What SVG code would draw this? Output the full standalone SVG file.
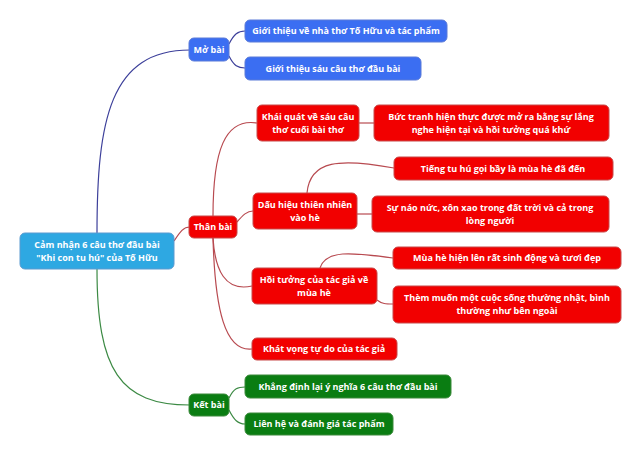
<svg xmlns="http://www.w3.org/2000/svg" width="640" height="456" viewBox="0 0 640 456">
<style>
text{font-family:"Open Sans","DejaVu Sans",sans-serif;font-weight:bold;font-size:9px;fill:#fff;text-anchor:middle}
.b rect{fill:#3b6ef2;stroke:#5a7ad8;stroke-width:1}
.r rect{fill:#f20000;stroke:#c84848;stroke-width:1}
.g rect{fill:#0a7d12;stroke:#3a8a3a;stroke-width:1}
.c rect{fill:#2ea8e2;stroke:#5a9ad0;stroke-width:1}
#connectors path{fill:none;stroke-width:1.2}
.lb{stroke:#3c3f9a}.lr{stroke:#b84a50}.lg{stroke:#3c8a44}
</style>
<rect width="640" height="456" fill="#fff"/>
<g id="connectors">
<path class="lb" d="M97,233 C97,120 110,50 190,50"/>
<path class="lr" d="M174,241 C180,232 183,227 190,227"/>
<path class="lg" d="M97,269 C97,370 120,405 190,405"/>
<path class="lb" d="M229,44 C234,34 238,31 245,31"/>
<path class="lb" d="M229,56 C234,66 238,68 245,68"/>
<path class="lg" d="M229,398 C234,388 238,387 245,387"/>
<path class="lg" d="M229,410 C234,420 238,424 245,424"/>
<path class="lr" d="M213,216 C213,150 225,118 257,123"/>
<path class="lr" d="M237,222 C243,215 247,211 253,211"/>
<path class="lr" d="M213,238 C215,270 225,292 252,286"/>
<path class="lr" d="M213,238 C215,310 225,352 252,349"/>
<path class="lr" d="M359,123 L374,123"/>
<path class="lr" d="M307,193 C310,160 340,158 394,168"/>
<path class="lr" d="M357,214 L372,214"/>
<path class="lr" d="M320,268 C326,250 350,252 393,258"/>
<path class="lr" d="M377,300 C382,304 386,304 393,304"/>
</g>
<g id="root" class="c"><rect x="20" y="233" width="154" height="36" rx="5"/><text x="97" y="248">Cảm nhận 6 câu thơ đầu bài</text><text x="97" y="261">"Khi con tu hú" của Tố Hữu</text></g>
<g id="mobai" class="b"><rect x="189" y="38" width="40" height="23" rx="5"/><text x="209" y="53">Mở bài</text></g>
<g id="mb1" class="b"><rect x="245" y="20" width="202" height="22" rx="5"/><text x="346" y="34">Giới thiệu về nhà thơ Tố Hữu và tác phẩm</text></g>
<g id="mb2" class="b"><rect x="245" y="57" width="176" height="23" rx="5"/><text x="333" y="71.5">Giới thiệu sáu câu thơ đầu bài</text></g>
<g id="thanbai" class="r"><rect x="189" y="216" width="48" height="22" rx="5"/><text x="213" y="230">Thân bài</text></g>
<g id="khaiquat" class="r"><rect x="257" y="105" width="102" height="36" rx="5"/><text x="308" y="120">Khái quát về sáu câu</text><text x="308" y="133">thơ cuối bài thơ</text></g>
<g id="buctranh" class="r"><rect x="374" y="105" width="235" height="36" rx="5"/><text x="491" y="120">Bức tranh hiện thực được mở ra bằng sự lắng</text><text x="491" y="133">nghe hiện tại và hồi tưởng quá khứ</text></g>
<g id="tieng" class="r"><rect x="394" y="157" width="219" height="23" rx="5"/><text x="503" y="171.5">Tiếng tu hú gọi bầy là mùa hè đã đến</text></g>
<g id="dauhieu" class="r"><rect x="253" y="193" width="104" height="36" rx="5"/><text x="305" y="208">Dấu hiệu thiên nhiên</text><text x="305" y="221">vào hè</text></g>
<g id="naonuc" class="r"><rect x="372" y="196" width="237" height="36" rx="5"/><text x="490" y="211">Sự náo nức, xôn xao trong đất trời và cả trong</text><text x="490" y="224">lòng người</text></g>
<g id="muahe" class="r"><rect x="393" y="247" width="228" height="22" rx="5"/><text x="507" y="261">Mùa hè hiện lên rất sinh động và tươi đẹp</text></g>
<g id="hoituong" class="r"><rect x="252" y="268" width="125" height="36" rx="5"/><text x="314" y="283">Hồi tưởng của tác giả về</text><text x="314" y="296">mùa hè</text></g>
<g id="themmuon" class="r"><rect x="393" y="286" width="228" height="37" rx="5"/><text x="507" y="301">Thèm muốn một cuộc sống thường nhật, bình</text><text x="507" y="314">thường như bên ngoài</text></g>
<g id="khatvong" class="r"><rect x="252" y="338" width="145" height="22" rx="5"/><text x="324" y="352">Khát vọng tự do của tác giả</text></g>
<g id="ketbai" class="g"><rect x="189" y="394" width="40" height="22" rx="5"/><text x="209" y="408">Kết bài</text></g>
<g id="kb1" class="g"><rect x="245" y="375" width="206" height="23" rx="5"/><text x="348" y="389.5">Khẳng định lại ý nghĩa 6 câu thơ đầu bài</text></g>
<g id="kb2" class="g"><rect x="245" y="413" width="148" height="22" rx="5"/><text x="319" y="427">Liên hệ và đánh giá tác phẩm</text></g>
</svg>
